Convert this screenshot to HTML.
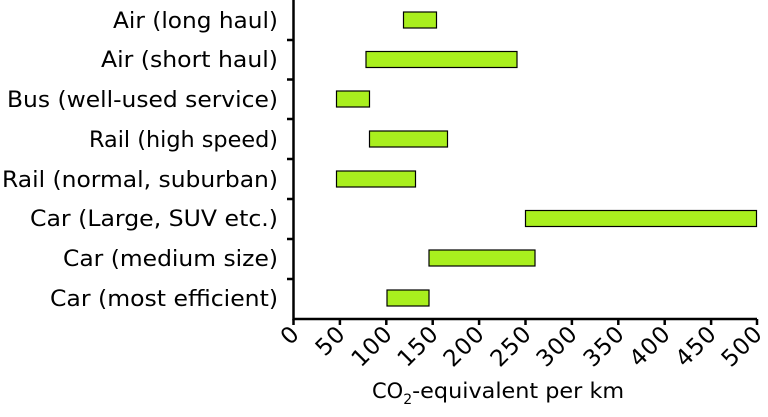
<!DOCTYPE html>
<html><head><style>body{margin:0;background:#fff}svg{display:block}text{font-family:"DejaVu Sans","Liberation Sans",sans-serif;fill:#000}</style></head><body>
<svg width="768" height="417" viewBox="0 0 768 417" xmlns="http://www.w3.org/2000/svg">
<g fill="#a9ef1e" stroke="#000" stroke-width="1.2">
<rect x="403.5" y="12" width="33" height="16"/>
<rect x="366" y="51.5" width="151" height="16"/>
<rect x="336.5" y="91" width="33" height="16"/>
<rect x="369.5" y="131" width="78" height="16"/>
<rect x="336.5" y="171" width="79" height="16"/>
<rect x="525.5" y="210.5" width="231" height="16"/>
<rect x="429" y="250" width="106" height="16"/>
<rect x="387" y="290" width="42" height="16"/>
</g>
<g stroke="#000" stroke-width="2.5" fill="none">
<path d="M293.5 0V319H757"/>
<path d="M287 40H293.5M287 79.5H293.5M287 119H293.5M287 159H293.5M287 199H293.5M287 239H293.5M287 279H293.5"/>
<path d="M293.5 319v6M339.9 319v6M386.3 319v6M432.7 319v6M479.1 319v6M525.5 319v6M571.9 319v6M618.3 319v6M664.7 319v6M711.1 319v6M757 319v6"/>
</g>
<g font-size="22">
<text x="113" y="28" textLength="165" lengthAdjust="spacingAndGlyphs">Air (long haul)</text>
<text x="101" y="67" textLength="177" lengthAdjust="spacingAndGlyphs">Air (short haul)</text>
<text x="7" y="107" textLength="271" lengthAdjust="spacingAndGlyphs">Bus (well-used service)</text>
<text x="89" y="147" textLength="189" lengthAdjust="spacingAndGlyphs">Rail (high speed)</text>
<text x="2" y="187" textLength="276" lengthAdjust="spacingAndGlyphs">Rail (normal, suburban)</text>
<text x="30" y="226" textLength="248" lengthAdjust="spacingAndGlyphs">Car (Large, SUV etc.)</text>
<text x="63" y="266" textLength="215" lengthAdjust="spacingAndGlyphs">Car (medium size)</text>
<text x="50" y="306" textLength="228" lengthAdjust="spacingAndGlyphs">Car (most efficient)</text>
</g>
<g font-size="23" text-anchor="end" letter-spacing="1">
<text transform="translate(301,335) rotate(-45)">0</text>
<text transform="translate(347,335) rotate(-45)">50</text>
<text transform="translate(394,335) rotate(-45)">100</text>
<text transform="translate(440,335) rotate(-45)">150</text>
<text transform="translate(486,335) rotate(-45)">200</text>
<text transform="translate(533,335) rotate(-45)">250</text>
<text transform="translate(579,335) rotate(-45)">300</text>
<text transform="translate(626,335) rotate(-45)">350</text>
<text transform="translate(672,335) rotate(-45)">400</text>
<text transform="translate(718,335) rotate(-45)">450</text>
<text transform="translate(764,335) rotate(-45)">500</text>
</g>
<text x="372" y="398" font-size="21">CO<tspan font-size="14" dy="6">2</tspan><tspan dy="-6" textLength="212" lengthAdjust="spacingAndGlyphs">-equivalent per km</tspan></text>
</svg>
</body></html>
